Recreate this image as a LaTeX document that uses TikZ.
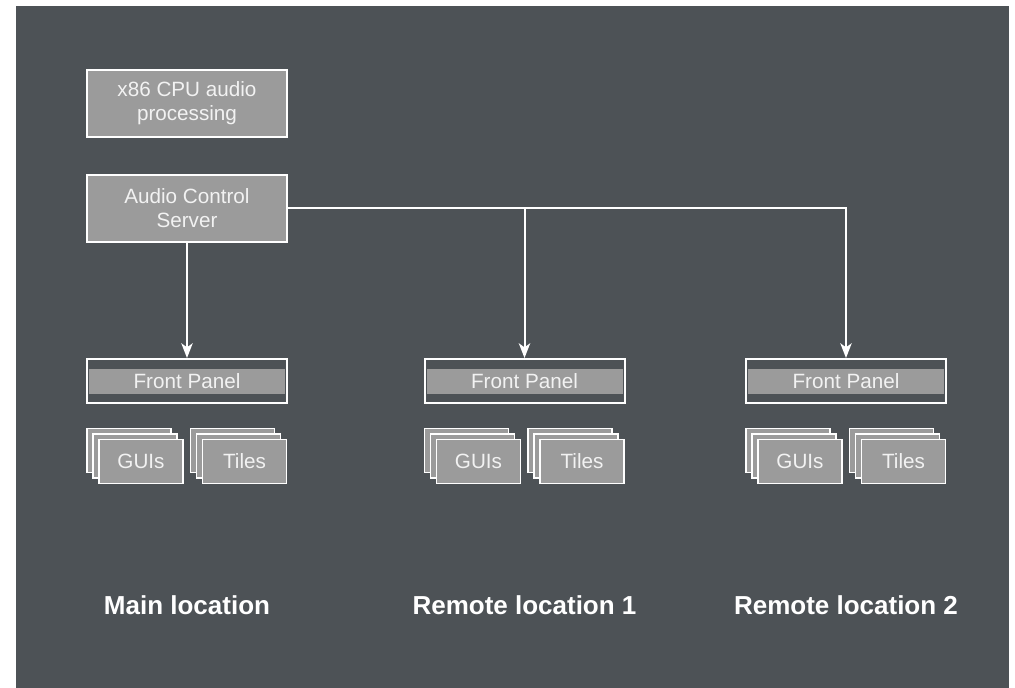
\documentclass[tikz,border=0pt]{standalone}
\usepackage{fontspec}
\setmainfont{Liberation Sans}
\usetikzlibrary{arrows.meta}
\definecolor{bgdark}{HTML}{4D5256}
\definecolor{boxgray}{HTML}{9B9B9B}
\definecolor{txtwhite}{HTML}{F2F2F2}

\begin{document}
\begin{tikzpicture}[x=0.75pt, y=-0.75pt, >={Stealth[length=11pt, width=8.5pt, inset=3pt]}]
        \tikzset{
            block/.style = {draw=white, line width=1.5pt, fill=boxgray, text=txtwhite,
                            font=\fontsize{15.5}{18}\selectfont, align=center,
                            minimum width=150pt, minimum height=50pt, inner sep=0pt},
            panel/.style = {draw=white, line width=1.5pt, fill=bgdark,
                            minimum width=150pt, minimum height=33pt, inner sep=0pt},
            band/.style  = {fill=boxgray, text=txtwhite, font=\fontsize{15.5}{18}\selectfont,
                            minimum width=147pt, minimum height=18.75pt, inner sep=0pt},
            card/.style  = {draw=white, line width=1.2pt, fill=boxgray, text=txtwhite,
                            font=\fontsize{15.5}{18}\selectfont,
                            minimum width=63pt, minimum height=33pt, inner sep=0pt},
            place/.style = {text=white, font=\bfseries\fontsize{19.5}{22}\selectfont},
            link/.style  = {draw=white, line width=1.5pt}
        }
        \useasboundingbox (0,0) rectangle (1015,688);
        \fill[white] (0,0) rectangle (1015,688);
        \fill[bgdark] (16,6) rectangle (1009,688);

        \node[block] (CPU) at (187,103.5) {x86 CPU audio\\processing};
        \node[block] (ACS) at (187,208.5) {Audio Control\\Server};

        % one column per location
        \foreach \i/\x/\name in {1/187/Main location, 2/524.5/Remote location 1, 3/846/Remote location 2} {
            \node[panel] (FP\i) at (\x,381) {};
            \node[band] (FB\i) at (FP\i) {Front Panel};
            \node[card] (GUIc\i) at (\x-58,450.5) {};
            \node[card] (GUIb\i) at (\x-52,456) {};
            \node[card] (GUI\i) at (\x-46,461.5) {GUIs};
            \node[card] (TILc\i) at (\x+45.5,450.5) {};
            \node[card] (TILb\i) at (\x+51.5,456) {};
            \node[card] (TIL\i) at (\x+57.5,461.5) {Tiles};
            \node[place] (LOC\i) at (\x,605) {\name};
        }

        \coordinate (J2) at (ACS.east -| FP2.north);
        \draw[link, ->] (ACS.south) -- (FP1.north);
        \draw[link, ->] (ACS.east) -| (FP3.north);
        \draw[link, ->] (J2) -- (FP2.north);
    \end{tikzpicture}
\end{document}
